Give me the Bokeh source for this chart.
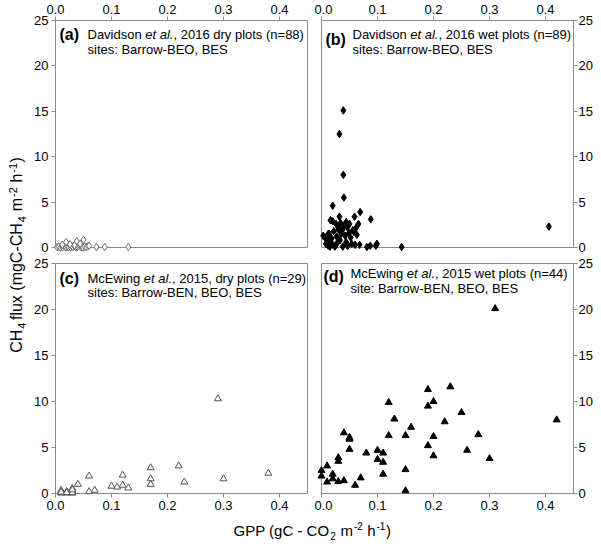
import numpy as np
from bokeh.plotting import figure
from bokeh.models import Range1d, Label, FixedTicker, GridBox, PrintfTickFormatter
from bokeh.embed import file_html
from bokeh.resources import INLINE

# ---------------- data (GPP, CH4 flux) ----------------
dav_dry = [(0.003, 0.05), (0.006, 0.1), (0.009, 0.0), (0.011, 0.15), (0.013, 0.05), (0.015, 0.2),
           (0.017, 0.1), (0.019, 0.0), (0.021, 0.1), (0.023, 0.05), (0.025, 0.3), (0.027, 0.0),
           (0.029, 0.15), (0.031, 0.05), (0.033, 0.2), (0.035, 0.1), (0.037, 0.0), (0.039, 0.05),
           (0.041, 0.15), (0.043, 0.3), (0.045, 0.1), (0.047, 0.05), (0.049, 0.0), (0.052, 0.1),
           (0.055, 0.05), (0.058, 0.15), (0.073, 0.05), (0.088, 0.05), (0.130, 0.05), (0.019, 0.6),
           (0.038, 0.7), (0.050, 0.85), (0.026, 0.35), (0.044, 0.4), (0.060, 0.2), (0.012, 0.3),
           (0.034, 0.25)]
dav_wet = [(0.039, 15.1), (0.032, 12.5), (0.039, 8.0), (0.040, 5.5), (0.020, 4.6), (0.016, 3.0),
           (0.020, 2.9), (0.032, 3.4), (0.069, 3.9), (0.059, 3.4), (0.088, 3.1), (0.406, 2.3),
           (0.143, 0.05), (0.099, 0.4), (0.097, 0.2), (0.081, 0.05), (0.087, 0.2), (0.006, 1.1),
           (0.003, 1.3), (0.010, 0.8), (0.012, 1.5), (0.014, 1.5), (0.016, 0.6), (0.018, 1.0),
           (0.020, 0.3), (0.022, 1.8), (0.024, 0.1), (0.025, 0.2), (0.027, 1.2), (0.028, 0.5),
           (0.030, 2.0), (0.031, 2.2), (0.033, 0.8), (0.035, 1.5), (0.037, 1.9), (0.038, 0.1),
           (0.040, 2.4), (0.042, 1.3), (0.044, 0.6), (0.045, 0.3), (0.046, 2.2), (0.047, 0.2),
           (0.049, 1.6), (0.050, 2.6), (0.052, 1.1), (0.054, 0.4), (0.056, 1.9), (0.058, 1.7),
           (0.060, 0.3), (0.062, 2.2), (0.063, 1.4), (0.066, 2.6), (0.068, 0.3), (0.012, 0.2),
           (0.008, 0.4), (0.015, 0.1), (0.026, 2.6), (0.034, 2.7), (0.044, 2.8)]
mce_dry = [(0.29, 10.3), (0.22, 3.0), (0.17, 2.8), (0.17, 1.6), (0.17, 1.0), (0.38, 2.2),
           (0.30, 1.6), (0.23, 1.25), (0.12, 2.0), (0.12, 0.9), (0.11, 0.7), (0.10, 0.8),
           (0.13, 0.6), (0.06, 1.9), (0.06, 0.2), (0.07, 0.35), (0.04, 1.0), (0.03, 0.55),
           (0.03, 0.25), (0.03, 0.05), (0.02, 0.2), (0.01, 0.35), (0.01, 0.05), (0.02, 0.05),
           (0.01, 0.1), (0.03, 0.1), (0.01, 0.15), (0.02, 0.1), (0.03, 0.4)]
mce_wet = [(0.42, 8.0), (0.23, 11.6), (0.19, 11.3), (0.19, 9.5), (0.20, 10.0), (0.25, 8.8),
           (0.22, 7.8), (0.12, 9.9), (0.13, 8.1), (0.16, 7.2), (0.12, 6.3), (0.15, 6.3),
           (0.20, 6.2), (0.28, 6.4), (0.19, 5.2), (0.26, 4.7), (0.20, 4.1), (0.30, 3.8),
           (0.15, 2.6), (0.15, 0.3), (0.10, 4.7), (0.11, 4.4), (0.08, 4.4), (0.10, 3.7),
           (0.11, 3.4), (0.11, 2.1), (0.07, 1.7), (0.06, 0.9), (0.04, 6.6), (0.05, 6.1),
           (0.05, 5.9), (0.05, 4.8), (0.03, 3.9), (0.03, 3.5), (0.04, 1.4), (0.03, 1.3),
           (0.02, 2.1), (0.02, 1.6), (0.01, 1.25), (0.01, 3.0), (0.00, 2.5), (0.00, 1.9),
           (0.31, 20.1), (0.05, 6.0)]

x_ticks = [0.0, 0.1, 0.2, 0.3, 0.4]
y_ticks = [0, 5, 10, 15, 20, 25]

FONT = "Liberation Sans"
GRAY = "#8a8a8a"
BL = 0.3    # empirical baseline correction for horizontal labels (fraction of font size)
BLY = 0.55  # same for the rotated y title
WS = 1.06   # safety factor on the width of the main title pieces

# Arial / Liberation Sans advance widths (1/1000 em)
AW = {' ': 278, '(': 333, ')': 333, ',': 278, '-': 333, '.': 278, ':': 278, '=': 584,
      'A': 667, 'B': 667, 'C': 722, 'D': 722, 'E': 667, 'G': 778, 'H': 722, 'M': 833, 'N': 722,
      'O': 778, 'P': 667, 'R': 722, 'S': 667, 'W': 944,
      'a': 556, 'b': 556, 'c': 500, 'd': 556, 'e': 556, 'f': 278, 'g': 556, 'h': 556, 'i': 222,
      'k': 500, 'l': 222, 'm': 833, 'n': 556, 'o': 556, 'p': 556, 'r': 333, 's': 500, 't': 278,
      'u': 556, 'v': 500, 'w': 722, 'x': 500, 'y': 500}


def tw(s, size):
    return sum(AW.get(c, 556) for c in s) * size / 1000.0


def split_lead(s, size):
    """SVG drops leading blanks: return stripped text and the width of the dropped blanks."""
    t = s.lstrip(" ")
    return t, tw(s[: len(s) - len(t)], size)


FW = 252   # frame width
C0 = 31    # width of the y-title column
PRE = 1.0  # room before a sub/superscript
GAP = 1.5  # room after a sub/superscript


def panel(xloc, yloc, fh, bl, br, bt, bb):
    p = figure(x_range=Range1d(0, 0.45), y_range=Range1d(0, 25), frame_width=FW, frame_height=fh,
               x_axis_location=xloc, y_axis_location=yloc, toolbar_location=None,
               output_backend="svg", min_border_left=bl, min_border_right=br,
               min_border_top=bt, min_border_bottom=bb)
    p.grid.visible = False
    p.outline_line_color = GRAY
    p.outline_line_width = 1
    p.background_fill_color = "white"
    p.border_fill_color = "white"
    p.xaxis.ticker = FixedTicker(ticks=x_ticks)
    p.xaxis.formatter = PrintfTickFormatter(format="%.1f")
    p.yaxis.ticker = FixedTicker(ticks=y_ticks)
    for ax in p.axis:
        ax.axis_line_color = GRAY
        ax.major_tick_line_color = GRAY
        ax.major_tick_out = 4
        ax.major_tick_in = 0
        ax.minor_tick_line_color = None
        ax.major_label_text_font = FONT
        ax.major_label_text_font_size = "13px"
        ax.major_label_text_color = "black"
        ax.major_label_standoff = 3
    p.yaxis.major_label_standoff = 3 if yloc == "left" else 1
    return p


def annotate(p, fh, letter, parts, line2, lx, lb, tx, b1, b2, ftop):
    def X(px):
        return px / FW * 0.45

    def Y(py):
        return (ftop + fh - py) / fh * 25

    p.add_layout(Label(x=X(lx), y=Y(lb - BL * 16), text=letter, text_font=FONT, text_font_size="16px",
                       text_font_style="bold", text_baseline="alphabetic", text_color="black"))
    cx = tx
    for s, style in parts:
        t, lead = split_lead(s, 13)
        p.add_layout(Label(x=X(cx + lead), y=Y(b1 - BL * 13), text=t, text_font=FONT,
                           text_font_size="13px", text_font_style=style, text_baseline="alphabetic",
                           text_color="black"))
        cx += tw(s, 13)
    p.add_layout(Label(x=X(tx), y=Y(b2 - BL * 13), text=line2, text_font=FONT, text_font_size="13px",
                       text_baseline="alphabetic", text_color="black"))


def unzip(pts):
    return [a for a, b in pts], [b for a, b in pts]


# Panel (a)
pa = panel("above", "left", 227, 22, 7, 20, 8)
xa, ya = unzip(dav_dry)
pa.scatter(xa, ya, marker="diamond", size=7.5, line_color="#707070", fill_color="white",
           line_width=1, level="overlay")
annotate(pa, 227, "(a)", [("Davidson ", "normal"), ("et al.", "italic"), (", 2016 dry plots (n=88)", "normal")],
         "sites: Barrow-BEO, BES", 4, 39, 32, 37.5, 53, 20)

# Panel (b)
pb = panel("above", "right", 227, 7, 22, 20, 8)
xb, yb = unzip(dav_wet)
pb.scatter(xb, yb, marker="diamond", size=7.5, line_color="black", fill_color="black", level="overlay")
annotate(pb, 227, "(b)", [("Davidson ", "normal"), ("et al.", "italic"), (", 2016 wet plots (n=89)", "normal")],
         "sites: Barrow-BEO, BES", 4, 44, 31, 37.5, 52.5, 20)

# Panel (c)
pc = panel("below", "left", 230, 22, 7, 8, 22)
xc, yc = unzip(mce_dry)
pc.scatter(xc, yc, marker="triangle", size=7, line_color="#555555", fill_color="white",
           line_width=1, level="overlay")
annotate(pc, 230, "(c)", [("McEwing ", "normal"), ("et al.", "italic"), (", 2015, dry plots (n=29)", "normal")],
         "sites: Barrow-BEN, BEO, BES", 4, 283, 32, 281.5, 295.5, 263)

# Panel (d)
pd_ = panel("below", "right", 230, 7, 22, 8, 22)
xd, yd = unzip(mce_wet)
pd_.scatter(xd, yd, marker="triangle", size=7, line_color="black", fill_color="black", level="overlay")
annotate(pd_, 230, "(d)", [("McEwing ", "normal"), ("et al.", "italic"), (", 2015 wet plots (n=44)", "normal")],
         "site: Barrow-BEN, BEO, BES", 2, 281, 29, 277, 292, 263)


def blank(w, h):
    f = figure(width=w, height=h, x_range=Range1d(0, w), y_range=Range1d(0, h),
               x_axis_type=None, y_axis_type=None, toolbar_location=None, output_backend="svg",
               min_border=0)
    f.grid.visible = False
    f.outline_line_color = None
    f.border_fill_color = "white"
    return f


def piece_len(s, k, big, small):
    if k == 0:
        return tw(s, big) * WS
    return tw(s, small) + PRE + GAP


# Y title (rotated), column 0 spanning both rows (255 + 260 px)
# main pieces are anchored at their END (text_align="right") so that a following
# subscript/superscript always sits right after them.
YH = 515
yt = blank(C0, YH)
ypieces = [("CH", 0), ("4", 1), (" flux (mgC-CH", 0), ("4", 1), (" m", 0), ("-2", 2), (" h", 0), ("-1", 2), (")", 0)]
YMAIN, YSMALL = 16, 11
ylen = sum(piece_len(s, k, YMAIN, YSMALL) for s, k in ypieces)
ycenter = 255
pos = (YH - ycenter) - ylen / 2
base_x = 24.5  # intended baseline position inside this strip
for s, k in ypieces:
    size = YMAIN if k == 0 else YSMALL
    xoff = {0: 0, 1: 3.5, 2: -6}[k]
    t, lead = split_lead(s, size)
    if k == 0:
        ypos, align = pos + piece_len(s, k, YMAIN, YSMALL), "right"
    else:
        ypos, align = pos + PRE, "left"
    yt.add_layout(Label(x=base_x + xoff - BLY * size, y=ypos, text=t,
                        angle=np.pi / 2, text_font=FONT, text_font_size=f"{size}px",
                        text_baseline="alphabetic", text_align=align, text_color="black"))
    pos += piece_len(s, k, YMAIN, YSMALL)

# X title, row 2 spanning both panel columns
XW, XH = 562, 30
xt = blank(XW, XH)
xpieces = [("GPP (gC - CO", 0), ("2", 1), (" m", 0), ("-2", 2), (" h", 0), ("-1", 2), (")", 0)]
XMAIN, XSMALL = 15, 10
xlen = sum(piece_len(s, k, XMAIN, XSMALL) for s, k in xpieces)
cx = (320 - 8 - C0) - xlen / 2
base_y = 11  # intended baseline (from the bottom of this strip)
for s, k in xpieces:
    size = XMAIN if k == 0 else XSMALL
    yoff = {0: 0, 1: -4.5, 2: 6}[k]
    t, lead = split_lead(s, size)
    if k == 0:
        xpos, align = cx + piece_len(s, k, XMAIN, XSMALL), "right"
    else:
        xpos, align = cx + PRE, "left"
    xt.add_layout(Label(x=xpos, y=base_y + yoff + BL * size, text=t,
                        text_font=FONT, text_font_size=f"{size}px", text_baseline="alphabetic",
                        text_align=align, text_color="black"))
    cx += piece_len(s, k, XMAIN, XSMALL)

grid = GridBox(children=[(yt, 0, 0, 2, 1), (pa, 0, 1), (pb, 0, 2), (pc, 1, 1), (pd_, 1, 2),
                         (xt, 2, 1, 1, 2)], spacing=0)

open("out.html", "w").write(file_html(grid, INLINE))
